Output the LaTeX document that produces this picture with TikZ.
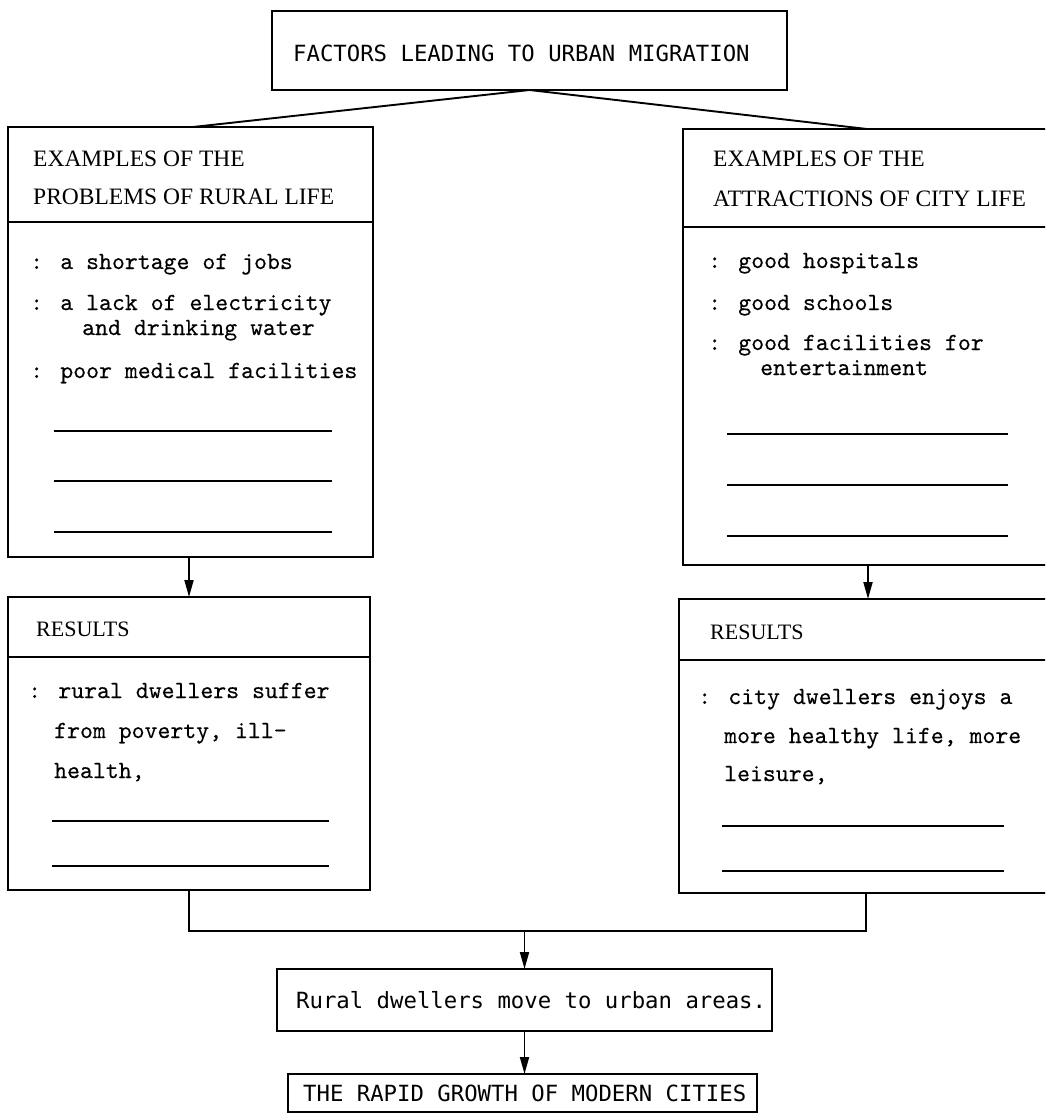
\documentclass[tikz,border=0pt]{standalone}
\usepackage{fontspec}
\usetikzlibrary{arrows.meta}
\newfontfamily\titlefont{DejaVu Sans Mono}
\newfontfamily\headfont{Liberation Serif}
\newfontfamily\bodyfont{lmmono10-regular.otf}[FakeBold=0.3]
\newcommand\ttlsz{\titlefont\fontsize{22.3}{26}\selectfont}
\newcommand\hdrsz{\headfont\fontsize{23.5}{27}\selectfont}
\newcommand\ressz{\headfont\fontsize{22}{25}\selectfont}
\newcommand\bdysz{\bodyfont\fontsize{24.6}{28}\selectfont}
\begin{document}
\begin{tikzpicture}[x=1pt,y=-1pt,
  box/.style={draw, line width=1.9pt, anchor=north west, inner sep=0pt, outer sep=0pt},
  bt/.style={anchor=base west, inner sep=0pt, font=\bdysz},
  ht/.style={anchor=base west, inner sep=0pt, font=\hdrsz},
  rt/.style={anchor=base west, inner sep=0pt, font=\ressz},
  ct/.style={anchor=base west, inner sep=0pt, font=\ttlsz},
  ln/.style={line width=1.9pt},
  blank/.style={line width=1.5pt},
  arr/.style={line width=1.9pt, -{Triangle[length=17pt,width=9pt]}}]
\useasboundingbox (0,0) rectangle (1045,1120);
\clip (0,0) rectangle (1045,1120);

% boxes
\node[box, minimum width=515pt, minimum height=79pt] (top) at (272,11) {};
\node[box, minimum width=365pt, minimum height=430pt] (lbox) at (8,127) {};
\node[box, minimum width=370pt, minimum height=436pt] (rbox) at (683,129) {};
\node[box, minimum width=362pt, minimum height=293pt] (lres) at (8,597) {};
\node[box, minimum width=374pt, minimum height=294pt] (rres) at (679,599) {};
\node[box, minimum width=495pt, minimum height=62pt] (rural) at (277,969) {};
\node[box, minimum width=469pt, minimum height=38pt] (rapid) at (288,1074) {};

% dividers
\draw[ln] (8,222) -- (373,222);
\draw[ln] (683,227) -- (1053,227);
\draw[ln] (8,657) -- (370,657);
\draw[ln] (679,660) -- (1053,660);

% title texts
\node[ct] (tt) at (293,61) {FACTORS LEADING TO URBAN MIGRATION};
\node[ct] (rt1) at (296,1008) {Rural dwellers move to urban areas.};
\node[ct] (rp1) at (303,1101) {THE RAPID GROWTH OF MODERN CITIES};

% left box
\node[ht] (lh1) at (33,166) {EXAMPLES OF THE};
\node[ht] (lh2) at (33,204) {PROBLEMS OF RURAL LIFE};
\node[bt] (lb1) at (30,269) {: a shortage of jobs};
\node[bt] (lb2) at (30,310) {: a lack of electricity};
\node[bt] (lb3) at (82,335) {and drinking water};
\node[bt] (lb4) at (30,378) {: poor medical facilities};
\draw[blank] (54,431) -- (332,431);
\draw[blank] (54,481) -- (332,481);
\draw[blank] (54,532) -- (332,532);

% right box
\node[ht] (rh1) at (713,166) {EXAMPLES OF THE};
\node[ht] (rh2) at (713,206) {ATTRACTIONS OF CITY LIFE};
\node[bt] (rb1) at (708,268) {: good hospitals};
\node[bt] (rb2) at (708,310) {: good schools};
\node[bt] (rb3) at (708,350) {: good facilities for};
\node[bt] (rb4) at (760,375) {entertainment};
\draw[blank] (727,434) -- (1008,434);
\draw[blank] (727,485) -- (1008,485);
\draw[blank] (727,536) -- (1008,536);

% left results
\node[rt] (lr0) at (36,636) {RESULTS};
\node[bt] (lr1) at (28,698) {: rural dwellers suffer};
\node[bt] (lr2) at (54,738) {from poverty, ill-};
\node[bt] (lr3) at (54,778) {health,};
\draw[blank] (52,821) -- (329,821);
\draw[blank] (52,866) -- (329,866);

% right results
\node[rt] (rr0) at (710,639) {RESULTS};
\node[bt] (rr1) at (698,704) {: city dwellers enjoys a};
\node[bt] (rr2) at (724,743) {more healthy life, more};
\node[bt] (rr3) at (724,781) {leisure,};
\draw[blank] (722,826) -- (1004,826);
\draw[blank] (722,871) -- (1004,871);

% connectors
\coordinate (la) at (193,127);
\coordinate (ra) at (867,129);
\draw[ln] (top.south) -- (la);
\draw[ln] (top.south) -- (ra);
\draw[arr] (lres.north |- lbox.south) -- (lres.north);
\draw[arr] (rbox.south) -- (rbox.south |- rres.north);
\coordinate (j) at (524.5,931);
\draw[ln] (lres.south) |- (j) -| (rres.south);
\draw[arr] (j) -- (rural.north);
\draw[arr] (rural.south) -- (rural.south |- rapid.north);
\end{tikzpicture}
\end{document}
